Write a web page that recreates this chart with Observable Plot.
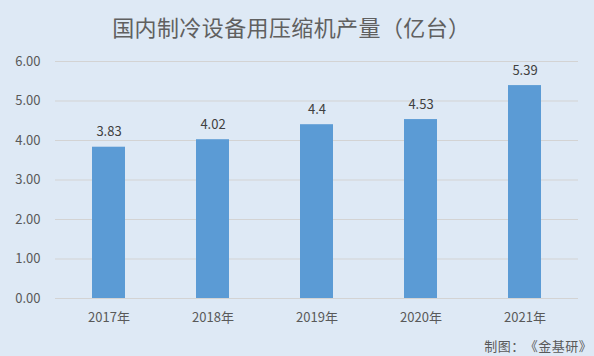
<!DOCTYPE html>
<html><head><meta charset="utf-8">
<script src="https://cdn.jsdelivr.net/npm/d3@7"></script>
<script src="https://cdn.jsdelivr.net/npm/@observablehq/plot@0.6"></script>
<style>
html,body{margin:0;padding:0;}
body{width:594px;height:356px;background:#dee9f5;position:relative;overflow:hidden;font-family:"Noto Sans CJK SC","Noto Sans",sans-serif;}
#title{position:absolute;left:112px;top:0;height:52px;line-height:52px;white-space:nowrap;font-size:22px;color:#606060;}
#title span{display:inline-block;width:22.4px;text-align:center;}
#caption{position:absolute;left:484px;top:336px;font-size:13px;color:#595959;line-height:20px;white-space:nowrap;}
#caption span{display:inline-block;width:13.5px;text-align:center;}
#chart{position:absolute;left:0;top:52px;}
svg{display:block;}
</style></head><body>
<div id="title"></div>
<div id="chart"></div>
<div id="caption"></div>
<script>
const titleText = "国内制冷设备用压缩机产量（亿台）";
const captionText = "制图：《金基研》";
const years = ["2017年","2018年","2019年","2020年","2021年"];
const values = [3.83, 4.02, 4.4, 4.53, 5.39];
const labels = ["3.83","4.02","4.4","4.53","5.39"];
const yTicks = [0,1,2,3,4,5,6];

function spaced(el, text){
  for (const ch of text){ const s=document.createElement("span"); s.textContent=ch; el.appendChild(s); }
}
spaced(document.getElementById("title"), titleText);
spaced(document.getElementById("caption"), captionText);

const data = years.map((y,i)=>({year:y, value:values[i], label:labels[i]}));

const chart = Plot.plot({
  width: 594,
  height: 304,
  marginTop: 9,
  marginBottom: 58,
  marginLeft: 55,
  marginRight: 16,
  style: {background:"transparent", fontFamily:'"Noto Sans CJK SC","Noto Sans",sans-serif', fontSize:"13px", color:"#595959"},
  x: {domain: years, paddingInner: 0.685, paddingOuter: 0.3425, label: null},
  y: {domain: [0,6], label: null},
  marks: [
    Plot.ruleY(yTicks, {stroke:"#d3d3d3", strokeWidth:1}),
    Plot.barY(data, {x:"year", y:"value", fill:"#5b9bd5"}),
    Plot.text(data, {x:"year", y:"value", text:"label", dy:-15, fill:"#404040", fontSize:13}),
    Plot.axisY({ticks: yTicks, tickFormat: d=>d.toFixed(2), tickSize:0, tickPadding:15, fontSize:13, fill:"#595959"}),
    Plot.axisX({tickSize:0, tickPadding:14, fontSize:13, fill:"#595959"})
  ]
});
document.getElementById("chart").appendChild(chart);
</script>
</body></html>
